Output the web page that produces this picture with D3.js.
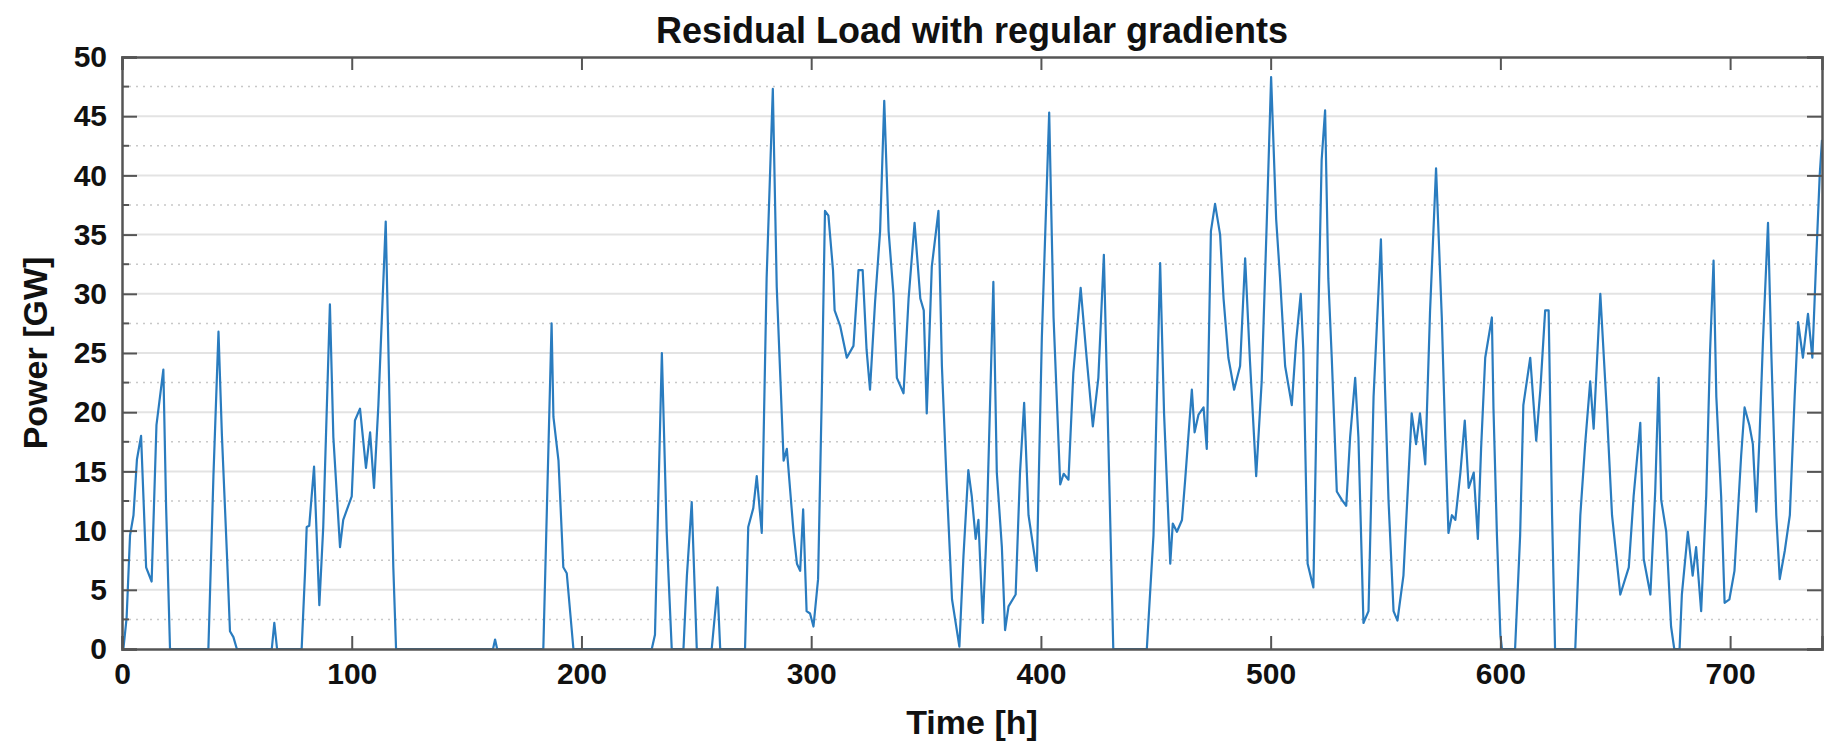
<!DOCTYPE html>
<html>
<head>
<meta charset="utf-8">
<script src="https://cdn.jsdelivr.net/npm/d3@7"></script>
<style>
    body { margin: 0; background: #fff; }
    svg { display: block; font-family: 'Liberation Sans', Arial, sans-serif; }
</style>
</head>
<body>
<div id="chart"></div>
<script>
// hour / GW vertices
const timeH = [
    0, 0.6, 2, 3.5, 5, 6.5, 8.3, 9.5, 10.5, 12.9, 15, 18, 19.2, 20.9,
    37.6, 39.8, 42, 43.5, 45.7, 47, 48.5, 50,
    65.2, 66.3, 67.5,
    78.2, 79.7, 80.4, 81.5, 83.6, 85.9, 87.6, 90.5, 92, 94.9, 96.3, 100, 101.4, 103.6, 106.2, 108, 109.7, 111.6, 114.8, 116.7, 118.1, 119.3,
    161.5, 162.4, 163.3,
    183.4, 187, 187.8, 190, 192.1, 193.6, 196.5,
    230.6, 232, 235, 237.1, 237.8, 239.3,
    244.4, 245.9, 248, 250.2,
    256.7, 259.2, 260.4,
    271.2, 272.6, 274.8, 276.3, 278.5, 280.6, 283.3, 285, 288, 289.4, 292.3, 293.8, 295.2, 296.5, 298, 299.5, 301, 303, 304.6, 306, 307.5, 309.5, 310.2, 312.6, 315.5, 318.4, 320.6, 322.4, 324.1, 325.6, 327.8, 330, 331.8, 333.7, 335.8, 337.3, 340.2, 342.4, 345, 347.5, 349, 350.3, 352.5, 355.4, 356.9, 359, 361.3, 364.5, 366.3, 368.4, 369.9, 371.6, 372.8, 374.7, 376.4, 379.3, 380.8, 383, 384.4, 385.9, 389, 390.9, 392.7, 394.6, 398.2, 400.4, 403.6, 405.5, 408.4, 409.9, 412, 414.1, 417.3, 419.9, 422.6, 425, 427.4, 429.3, 431.5,
    446.1, 449, 451.9, 453.6, 456.3, 457.4, 459.2, 461.4, 462.8, 465.7, 466.9, 468.6, 470.8, 472.2, 474, 475.8, 478, 479.5, 481.6, 484.1, 486.7, 488.9, 491, 493.7, 496.1, 498.3, 500.2, 502.4, 504.1, 506.3, 509.2, 511.1, 513.1, 514.2, 516.1, 518.6, 520.4, 522.2, 523.7, 525.1, 526.6, 528.8, 531, 532.9, 534.6, 536.8, 538.2, 540.4, 542.6, 544.8, 548, 549.8, 551.3, 553.5, 555.2, 557.8, 560, 561.4, 563.3, 565, 567.3, 569.4, 572, 574.5, 576, 577.4, 578.9, 580.4, 582.6, 584.5, 586.2, 588.4, 590.2, 591.6, 593.4, 596.3, 597, 598.5, 600, 600.7,
    606.4, 608.6, 610, 613, 615.6, 617.4, 619.5, 621, 622.5, 623.8,
    632.6, 634.8, 636.9, 639.1, 640.6, 643.5, 646.4, 648.6, 652.2, 655.9, 658, 660.9, 662.4, 665.3, 667.4, 668.9, 670, 672.2, 674.3, 675.7, 678, 679, 681.6, 683.7, 685.2, 687.4, 689.6, 691.3, 692.8, 694, 696.1, 697.6, 699.7, 701.9, 704.8, 706.3, 708.4, 709.9, 711.4, 712.8, 714.3, 716.5, 718, 720.1, 721.6, 723.8, 726, 728.1, 729.6, 731.7, 733.9, 735.8, 737.5, 739, 740
];
const powerGW = [
    0, 0, 2.6, 9.6, 11.3, 16, 18, 12, 6.9, 5.7, 18.9, 23.6, 12, 0,
    0, 14.6, 26.8, 18, 7.9, 1.5, 1, 0,
    0, 2.2, 0,
    0, 6.6, 10.3, 10.4, 15.4, 3.7, 10.3, 29.1, 17.9, 8.6, 10.9, 12.9, 19.3, 20.3, 15.3, 18.3, 13.6, 20.6, 36.1, 18.6, 6.9, 0,
    0, 0.8, 0,
    0, 27.5, 19.6, 15.9, 6.9, 6.4, 0,
    0, 1.2, 25, 9.9, 6.6, 0,
    0, 6.2, 12.4, 0,
    0, 5.2, 0,
    0, 10.3, 11.9, 14.6, 9.8, 31.3, 47.3, 30.6, 15.9, 16.9, 9.9, 7.2, 6.6, 11.8, 3.2, 3, 1.9, 5.9, 21.3, 37, 36.6, 32, 28.6, 27.3, 24.6, 25.6, 32, 32, 25.3, 21.9, 29.3, 35.3, 46.3, 35.3, 30, 22.9, 21.6, 29.6, 36, 29.6, 28.6, 19.9, 32.3, 37, 23.9, 13.9, 4.2, 0.2, 7.9, 15.1, 12.9, 9.3, 10.9, 2.2, 10.3, 31, 14.9, 8.6, 1.6, 3.6, 4.6, 14.9, 20.8, 11.3, 6.6, 26.3, 45.3, 28, 13.9, 14.8, 14.3, 23.3, 30.5, 24.6, 18.8, 22.9, 33.3, 17.9, 0,
    0, 9.6, 32.6, 19.9, 7.2, 10.6, 9.9, 10.9, 14.3, 21.9, 18.3, 19.8, 20.4, 16.9, 35.3, 37.6, 35, 29.6, 24.6, 21.9, 23.9, 33, 24.3, 14.6, 22.6, 36, 48.3, 36.3, 31.3, 23.9, 20.6, 26, 30, 25.3, 7.2, 5.2, 24.6, 41.3, 45.5, 31.3, 24.6, 13.3, 12.6, 12.1, 17.9, 22.9, 17.9, 2.2, 3.2, 21.3, 34.6, 21.9, 12.6, 3.2, 2.4, 6.2, 14.6, 19.9, 17.3, 19.9, 15.6, 28.6, 40.6, 28, 17.9, 9.8, 11.3, 10.9, 14.9, 19.3, 13.6, 14.9, 9.3, 16.9, 24.6, 28, 20.3, 9.6, 1.2, 0,
    0, 9.6, 20.6, 24.6, 17.6, 21.9, 28.6, 28.6, 11.3, 0,
    0, 11.3, 17.3, 22.6, 18.6, 30, 19.9, 11.3, 4.6, 6.9, 12.9, 19.1, 7.6, 4.6, 13.3, 22.9, 12.6, 9.9, 1.9, 0, 0, 4.6, 9.9, 6.2, 8.6, 3.2, 12.9, 25.3, 32.8, 21.3, 12.9, 3.9, 4.2, 6.6, 16.3, 20.4, 18.9, 17.3, 11.6, 17.9, 26, 36, 24.6, 11.3, 5.9, 8.3, 11.3, 21.3, 27.6, 24.6, 28.3, 24.6, 33, 40, 43
];
const xTicks = [0, 100, 200, 300, 400, 500, 600, 700];
const yTicks = [0, 5, 10, 15, 20, 25, 30, 35, 40, 45, 50];
const yMinorTicks = [2.5, 7.5, 12.5, 17.5, 22.5, 27.5, 32.5, 37.5, 42.5, 47.5];

const titleText = 'Residual Load with regular gradients';
const xLabelText = 'Time [h]';
const yLabelText = 'Power [GW]';

class ResidualLoadChart {
    constructor(id, width = 1826, height = 744) {
        this.id = id;
        this.margin = { top: 57, right: 4, bottom: 95, left: 122 };
        this.width = width - this.margin.left - this.margin.right;
        this.height = height - this.margin.top - this.margin.bottom;
        this.svg = d3
            .select(id)
            .append('svg')
            .attr('width', width)
            .attr('height', height);
    }

    initialize() {
        this.container = this.svg
            .append('g')
            .attr('transform', `translate(${this.margin.left}, ${this.margin.top})`);

        this.xScale = d3.scaleLinear().domain([0, 740]).range([0, this.width]);
        this.yScale = d3.scaleLinear().domain([0, 50]).range([this.height, 0]);

        // minor dotted grid
        this.container
            .append('g')
            .selectAll('line')
            .data(yMinorTicks)
            .join('line')
            .attr('x1', 0)
            .attr('x2', this.width)
            .attr('y1', (d) => this.yScale(d))
            .attr('y2', (d) => this.yScale(d))
            .attr('stroke', '#c8c8c8')
            .attr('stroke-width', 1.5)
            .attr('stroke-dasharray', '2,5');

        // major grid
        this.container
            .append('g')
            .selectAll('line')
            .data(yTicks.slice(1, -1))
            .join('line')
            .attr('x1', 0)
            .attr('x2', this.width)
            .attr('y1', (d) => this.yScale(d))
            .attr('y2', (d) => this.yScale(d))
            .attr('stroke', '#e3e3e3')
            .attr('stroke-width', 2);

        const line = d3
            .line()
            .x((d) => this.xScale(d[0]))
            .y((d) => this.yScale(d[1]));

        this.container
            .append('path')
            .datum(d3.zip(timeH, powerGW))
            .attr('fill', 'none')
            .attr('stroke', '#2a7cbf')
            .attr('stroke-width', 2.2)
            .attr('stroke-linejoin', 'round')
            .attr('d', line);

        // axes, ticks pointing inward like matlab
        const xAxis = this.container
            .append('g')
            .attr('transform', `translate(0, ${this.height})`)
            .call(d3.axisBottom(this.xScale).tickValues(xTicks).tickSize(-13).tickPadding(14));
        const xTop = this.container
            .append('g')
            .call(d3.axisTop(this.xScale).tickValues(xTicks).tickSize(-13).tickFormat(''));
        const yAxis = this.container
            .append('g')
            .call(d3.axisLeft(this.yScale).tickValues(yTicks).tickSize(-15).tickPadding(15));
        const yRight = this.container
            .append('g')
            .attr('transform', `translate(${this.width}, 0)`)
            .call(d3.axisRight(this.yScale).tickValues(yTicks).tickSize(-15).tickFormat(''));

        this.container
            .append('g')
            .selectAll('line')
            .data(yMinorTicks)
            .join('line')
            .attr('x1', 0)
            .attr('x2', 7)
            .attr('y1', (d) => this.yScale(d))
            .attr('y2', (d) => this.yScale(d))
            .attr('stroke', '#555')
            .attr('stroke-width', 2);

        [xAxis, xTop, yAxis, yRight].forEach((ax) => {
            ax.select('.domain').attr('stroke', '#555').attr('stroke-width', 2.5);
            ax.selectAll('.tick line').attr('stroke', '#555').attr('stroke-width', 2);
            ax.selectAll('.tick text')
                .attr('fill', '#111')
                .attr('font-size', '30px')
                .attr('font-weight', 'bold')
                .attr('font-family', "'Liberation Sans', Arial, sans-serif");
        });

        this.svg
            .append('text')
            .attr('x', this.margin.left + this.width / 2)
            .attr('y', 43)
            .attr('text-anchor', 'middle')
            .attr('font-size', '36px')
            .attr('font-weight', 'bold')
            .attr('fill', '#111')
            .text(titleText);

        this.svg
            .append('text')
            .attr('x', this.margin.left + this.width / 2)
            .attr('y', 734)
            .attr('text-anchor', 'middle')
            .attr('font-size', '34px')
            .attr('font-weight', 'bold')
            .attr('fill', '#111')
            .text(xLabelText);

        this.svg
            .append('text')
            .attr('transform', `translate(47, ${this.margin.top + this.height / 2}) rotate(-90)`)
            .attr('text-anchor', 'middle')
            .attr('font-size', '34px')
            .attr('font-weight', 'bold')
            .attr('fill', '#111')
            .text(yLabelText);

        return this;
    }
}

new ResidualLoadChart('#chart').initialize();
</script>
</body>
</html>
